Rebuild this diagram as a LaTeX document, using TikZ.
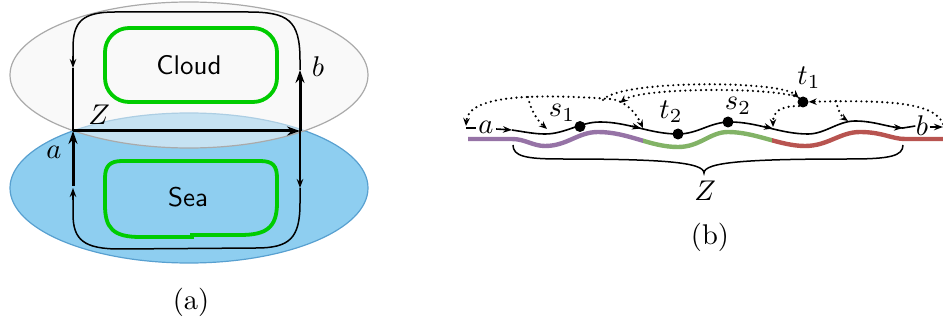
\documentclass[tikz,border=0pt]{standalone}
\usetikzlibrary{arrows.meta}
\definecolor{seafill}{RGB}{142,206,240}
\definecolor{seastroke}{RGB}{88,160,208}
\definecolor{cloudfill}{RGB}{244,244,244}
\definecolor{cloudstroke}{RGB}{170,170,170}
\definecolor{boxgreen}{RGB}{0,204,0}
\definecolor{wpurple}{RGB}{150,115,166}
\definecolor{wgreen}{RGB}{130,179,102}
\definecolor{wred}{RGB}{184,84,80}
\tikzset{
  lbl/.style={inner sep=0pt, scale=2.85},
  sanslbl/.style={inner sep=0pt, scale=2.7, font=\sffamily},
  greenbox/.style={draw=boxgreen, line width=3.8pt},
  loopline/.style={line width=1.5pt},
  thinarr/.style={line width=1.5pt, -{Stealth[length=9pt,width=6.5pt]}},
  thickarr/.style={line width=3pt, -{Stealth[length=13pt,width=9pt]}},
  wave/.style={line width=1.6pt},
  wavearr/.style={line width=1.6pt, -{Stealth[length=9pt,width=6.5pt]}},
  cwave/.style={line width=4.4pt},
  dotline/.style={line width=2.4pt, dash pattern=on 0pt off 5.2pt, line cap=round, -{Stealth[length=8pt,width=6.5pt]}},
  dotnode/.style={circle, fill=black, inner sep=0pt, minimum size=11pt},
  brace/.style={line width=1.5pt},
}
\begin{document}
\begin{tikzpicture}[x=1pt,y=-1pt]
\useasboundingbox (0,0) rectangle (943,323);
% ---------------- panel (a) ----------------
\fill[seafill, draw=seastroke, line width=1.2pt] (189,188) ellipse (179pt and 75pt);
\fill[cloudfill, fill opacity=0.55, draw=cloudstroke, line width=1.2pt] (189,75) ellipse (179pt and 73pt);
\draw[greenbox, rounded corners=24pt] (105,28) rectangle (277,102);
\node[sanslbl] (cloud) at (189,65) {Cloud};
\draw[greenbox] (122,161) -- (260,161) .. controls (273,161) and (277,166) .. (277,178)
  -- (277,203) .. controls (277,228) and (266,235) .. (240,235) -- (192,235) -- (192,237)
  -- (140,237) .. controls (113,237) and (105,228) .. (105,205) -- (105,178)
  .. controls (105,166) and (110,161) .. (122,161) -- cycle;
\node[sanslbl] (sea) at (188,197) {Sea};
\coordinate (A0) at (73,186);
\coordinate (A1) at (73,131);
\coordinate (B1) at (300,131);
\coordinate (B2) at (300,70);
\coordinate (LT) at (73,68);
\coordinate (RB) at (300,188);
% top loop
\draw[loopline] (B2) -- (300,60) .. controls (300,20) and (288,12) .. (248,12) -- (115,12)
  .. controls (82,12) and (73,22) .. (73,48) -- (73,60);
\draw[thinarr] (73,56) -- (LT);
\draw[loopline] (LT) -- (A1);
% bottom loop
\draw[thinarr] (B1) -- (RB);
\draw[loopline] (RB) -- (300,203) .. controls (300,238) and (290,248) .. (256,248) -- (120,249)
  .. controls (84,249) and (73,240) .. (73,214) -- (73,198);
\draw[thinarr] (73,200) -- (73,188);
% thick path a -> Z -> b
\draw[thickarr] (A0) -- (A1);
\draw[thickarr] (A1) -- (B1);
\draw[thickarr] (B1) -- (B2);
\node[lbl] (la) at (54,152) {$a$};
\node[lbl] (lz) at (99,115) {$Z$};
\node[lbl] (lb) at (318,67) {$b$};
\node[lbl] (capa) at (191,302) {(a)};
% ---------------- panel (b) ----------------
\def\cwavepath{(468,139) -- (512,139) .. controls (525,139) and (533,146) .. (545,146)
  .. controls (567,146) and (578,132) .. (598,132) .. controls (628,132) and (650,147) .. (678,147)
  .. controls (700,147) and (710,132) .. (728,132) .. controls (755,132) and (780,146) .. (805,146)
  .. controls (828,146) and (840,132) .. (860,132) .. controls (882,132) and (892,139) .. (905,139) -- (943,139)}
\begin{scope}
  \clip (460,100) rectangle (643,170);
  \draw[cwave, wpurple] \cwavepath;
\end{scope}
\begin{scope}
  \clip (643,100) rectangle (772,170);
  \draw[cwave, wgreen] \cwavepath;
\end{scope}
\begin{scope}
  \clip (772,100) rectangle (943,170);
  \draw[cwave, wred] \cwavepath;
\end{scope}
\node[lbl] (na) at (486,127) {$a$};
\node[lbl] (nb) at (922,126) {$b$};
\coordinate (W0) at (512,130);
\coordinate (W1) at (903,128);
\draw[wavearr] (na.east) ++(2,2) -- (W0);
\draw[wave] (W0) .. controls (525,132) and (535,134) .. (545,134)
  .. controls (565,134) and (580,122) .. (600,122) .. controls (628,122) and (650,134) .. (678,134)
  .. controls (698,134) and (710,122) .. (730,122) .. controls (758,122) and (780,134) .. (808,134)
  .. controls (825,134) and (838,121) .. (855,121) .. controls (875,121) and (890,128) .. (W1);
\draw[wavearr] (632,126.2) -- (641,128.4);
\draw[wavearr] (764,126.4) -- (773,128.6);
\draw[wavearr] (894,127.4) -- (W1);
\draw[wave] (W1) -- (nb.west);
\draw[wavearr] (nb.east) ++(1,1) -- (943,127);
\draw[wave] (na.west) ++(-2,1) -- (466,128);
% points
\node[dotnode] (s1) at (580,126.5) {};
\node[dotnode] (t2) at (678,134) {};
\node[dotnode] (s2) at (728,122) {};
\node[dotnode] (t1) at (803,102) {};
\node[lbl] (ls1) at (562,113) {$s_1$};
\node[lbl] (lt2) at (671,112) {$t_2$};
\node[lbl] (ls2) at (738,106) {$s_2$};
\node[lbl] (lt1) at (809,78) {$t_1$};
% dotted jumps
\coordinate (J1) at (610,99);
\coordinate (J2) at (528,97);
\coordinate (J3) at (836,101);
\coordinate (E0) at (466,126);
\coordinate (E1) at (547,129);
\coordinate (E2) at (620,103);
\coordinate (E3) at (643,128);
\coordinate (E4) at (773,127);
\coordinate (E5) at (848,121);
\coordinate (R0) at (943,124);
\draw[dotline] (J1) .. controls (540,94) and (468,94) .. (E0);
\draw[dotline] (J2) .. controls (531,112) and (539,122) .. (E1);
\draw[dotline] (603,100) .. controls (618,80) and (780,80) .. (t1);
\draw[dotline] (t1.north west) .. controls (780,87) and (640,87) .. (E2);
\draw[dotline] (J1) .. controls (625,100) and (636,113) .. (E3);
\draw[dotline] (t1.south west) .. controls (780,106) and (773,112) .. (E4);
\draw[dotline] (R0) .. controls (935,102) and (885,100) .. (t1);
\draw[dotline] (J3) .. controls (838,111) and (842,117) .. (E5);
% brace Z
\draw[brace] (513,145) .. controls (513,156) and (525,159) .. (560,159)
  .. controls (660,159) and (704,162) .. (704,173)
  .. controls (704,162) and (748,159) .. (850,159)
  .. controls (890,159) and (903,156) .. (903,145);
\node[lbl] (lZ) at (705,191) {$Z$};
\node[lbl] (capb) at (710,237) {(b)};
\end{tikzpicture}
\end{document}
